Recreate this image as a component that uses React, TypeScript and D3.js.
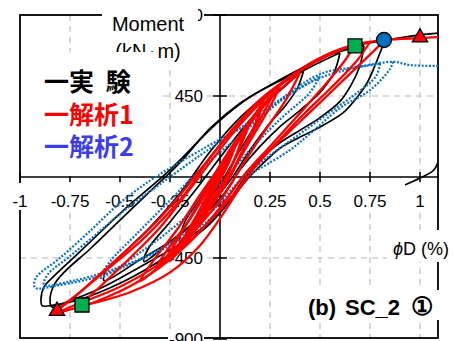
import React from 'react';
import * as d3 from 'd3';

// axis ticks
const xTicks = [-1, -0.75, -0.5, -0.25, 0, 0.25, 0.5, 0.75, 1];
const xTickLabels = ['-1', '-0.75', '-0.5', '-0.25', '0', '0.25', '0.5', '0.75', '1'];
const yTicks = [-900, -450, 0, 450, 900];
const yTickLabels = ['-900', '-450', '0', '450', '900'];
const xGrid = [-0.75, -0.5, -0.25, 0.25, 0.5, 0.75, 1];
const yGrid = [-450, 450];

// experiment (black) loops: [phiD %, moment kN・m]
const expLoop1 = [[0.22, 420], [0.18, 300], [0.1, 150], [0, -40], [-0.1, -200], [-0.2, -360], [-0.18, -260], [-0.1, -120], [0, 60], [0.1, 230], [0.22, 420]];
const expLoop2 = [[0.42, 600], [0.39, 500], [0.33, 400], [0.25, 300], [0.15, 150], [0.05, -20], [-0.1, -220], [-0.25, -360], [-0.38, -470], [-0.36, -400], [-0.25, -250], [-0.1, -40], [0.05, 180], [0.2, 380], [0.3, 480], [0.42, 600]];
const expLoop3 = [[0.6, 690], [0.57, 580], [0.5, 470], [0.4, 370], [0.3, 280], [0.2, 170], [0.1, 40], [0, -120], [-0.2, -320], [-0.4, -460], [-0.58, -575], [-0.57, -520], [-0.5, -440], [-0.35, -280], [-0.2, -90], [-0.05, 140], [0.1, 330], [0.25, 470], [0.4, 580], [0.6, 690]];
const expLoop4 = [[0.72, 730], [0.7, 620], [0.66, 520], [0.6, 420], [0.5, 330], [0.4, 260], [0.3, 190], [0.2, 100], [0.1, -40], [0, -200], [-0.2, -370], [-0.4, -500], [-0.6, -620], [-0.78, -700], [-0.84, -722], [-0.85, -690], [-0.83, -600], [-0.78, -530], [-0.65, -400], [-0.5, -240], [-0.35, -80], [-0.2, 80], [-0.05, 270], [0.1, 410], [0.25, 510], [0.4, 600], [0.55, 680], [0.72, 730]];
const expLoop5 = [[0.825, 760], [0.8, 690], [0.775, 620], [0.735, 522], [0.675, 428], [0.615, 356], [0.5, 278], [0.4, 222], [0.3, 160], [0.2, 60], [0.15, 5], [0.05, -130], [-0.05, -260], [-0.2, -390], [-0.35, -500], [-0.5, -590], [-0.7, -680], [-0.85, -715], [-0.89, -715], [-0.895, -680], [-0.88, -610], [-0.835, -556], [-0.7, -415], [-0.55, -255], [-0.465, -167], [-0.25, 40], [-0.015, 300], [0.15, 444], [0.3, 535], [0.4, 590], [0.5, 655], [0.65, 722], [0.825, 760], [1.0, 790], [1.15, 805]];
const expTail = [[1.14, 400], [1.1, 120], [1.07, 40], [1.0, -6], [0.925, -44]];

// analysis 1 (red) loops
const anaLoop1 = [[0.12, 250], [0.08, 120], [0.02, -30], [-0.05, -170], [-0.14, -320], [-0.11, -230], [-0.05, -90], [0.02, 70], [0.12, 250]];
const anaLoop2 = [[0.22, 420], [0.17, 280], [0.1, 120], [0.03, -40], [-0.08, -220], [-0.25, -470], [-0.2, -370], [-0.12, -220], [-0.03, -30], [0.06, 140], [0.14, 290], [0.22, 420]];
const anaLoop3 = [[0.4, 580], [0.33, 430], [0.22, 250], [0.12, 80], [0.02, -100], [-0.12, -290], [-0.25, -440], [-0.4, -580], [-0.33, -460], [-0.22, -300], [-0.1, -100], [0, 60], [0.1, 220], [0.22, 400], [0.4, 580]];
const anaLoop4 = [[0.675, 735], [0.62, 640], [0.5, 480], [0.38, 330], [0.25, 170], [0.12, 10], [0, -170], [-0.15, -360], [-0.35, -540], [-0.55, -660], [-0.69, -711], [-0.6, -610], [-0.45, -450], [-0.3, -280], [-0.18, -110], [-0.05, 80], [0.1, 290], [0.25, 460], [0.45, 630], [0.675, 735]];
const anaLoop5 = [[0.825, 761], [0.75, 680], [0.6, 520], [0.45, 360], [0.35, 255], [0.2, 90], [0.1, -60], [0, -230], [-0.1, -380], [-0.25, -530], [-0.45, -640], [-0.65, -705], [-0.815, -748], [-0.7, -640], [-0.55, -500], [-0.4, -360], [-0.3, -250], [-0.18, -100], [-0.08, 60], [0.05, 250], [0.2, 430], [0.4, 590], [0.55, 680], [0.675, 735], [0.825, 761], [1.0, 772], [1.15, 780]];
const anaLoop6 = [[0.3, 500], [0.24, 370], [0.15, 200], [0.06, 30], [-0.04, -140], [-0.18, -340], [-0.32, -500], [-0.26, -400], [-0.16, -250], [-0.06, -70], [0.04, 110], [0.16, 310], [0.3, 500]];
const anaLoop7 = [[0.08, 180], [0.04, 70], [-0.02, -60], [-0.09, -220], [-0.06, -130], [0, 0], [0.08, 180]];
const anaLoop8 = [[0.75, 750], [0.68, 640], [0.55, 490], [0.42, 350], [0.3, 210], [0.17, 50], [0.05, -120], [-0.1, -300], [-0.3, -480], [-0.5, -610], [-0.7, -700], [-0.815, -748], [-0.72, -660], [-0.6, -540], [-0.45, -390], [-0.32, -250], [-0.2, -100], [-0.1, 40], [0.05, 240], [0.25, 470], [0.45, 630], [0.6, 710], [0.75, 750]];
const anaLoop9 = [[0.16, 330], [0.11, 190], [0.04, 20], [-0.04, -130], [-0.12, -280], [-0.2, -410], [-0.15, -300], [-0.08, -160], [-0.01, 0], [0.07, 160], [0.16, 330]];
const anaLoop10 = [[0.27, 470], [0.2, 320], [0.12, 160], [0.05, 0], [-0.06, -180], [-0.16, -320], [-0.29, -490], [-0.22, -360], [-0.13, -190], [-0.04, -10], [0.06, 170], [0.17, 340], [0.27, 470]];

// analysis 2 (blue dotted) loops
const ana2Loop1 = [[0.5, 560], [0.45, 470], [0.3, 320], [0.15, 150], [0, -40], [-0.2, -250], [-0.4, -420], [-0.6, -560], [-0.55, -470], [-0.42, -320], [-0.25, -130], [-0.1, 40], [0.1, 230], [0.3, 420], [0.5, 560]];
const ana2Loop2 = [[0.8, 630], [0.78, 560], [0.7, 480], [0.55, 360], [0.4, 240], [0.25, 120], [0.1, -20], [-0.05, -200], [-0.3, -400], [-0.55, -520], [-0.75, -580], [-0.88, -600], [-0.86, -540], [-0.75, -440], [-0.6, -300], [-0.45, -160], [-0.3, -40], [-0.1, 120], [0.1, 270], [0.3, 430], [0.5, 550], [0.65, 600], [0.8, 630]];
const ana2Loop3 = [[0.865, 640], [0.85, 600], [0.75, 483], [0.6, 383], [0.45, 240], [0.35, 150], [0.235, 70], [0.15, 10], [-0.015, -200], [-0.2, -350], [-0.4, -460], [-0.6, -550], [-0.8, -600], [-0.925, -615], [-0.92, -560], [-0.8, -450], [-0.65, -300], [-0.5, -144], [-0.35, -20], [-0.235, 60], [0, 210], [0.2, 333], [0.365, 483], [0.515, 578], [0.685, 611], [0.865, 640], [0.95, 622], [1.15, 617]];

const expLoops = [expLoop1, expLoop2, expLoop3, expLoop4, expLoop5, expTail];
const anaLoops = [anaLoop7, anaLoop1, anaLoop9, anaLoop2, anaLoop10, anaLoop6, anaLoop3, anaLoop4, anaLoop8, anaLoop5];
const ana2Loops = [ana2Loop1, ana2Loop2, ana2Loop3];

// markers
const squarePts = [[0.675, 728], [-0.69, -711]];
const circlePts = [[0.82, 761]];
const trianglePts = [[1.0, 775], [-0.815, -744]];

const charW = (s: string, size: number) =>
  s.split('').reduce((a, c) => a + (c === '.' ? 0.278 : c === '-' ? 0.333 : 0.556), 0) * size;

const App = () => {
  const width = 455;
  const height = 341;
  const x = d3.scaleLinear().domain([-1, 1.09]).range([20, 438]);
  const y = d3.scaleLinear().domain([-900, 900]).range([339, 15]);

  const line = d3.line<number[]>()
    .x(d => x(d[0]))
    .y(d => y(d[1]))
    .curve(d3.curveCatmullRom.alpha(0.5));

  const gridColor = '#cfcfcf';
  const tickFont = 17;
  const sym = (type: any, size: number) => d3.symbol().type(type).size(size)() as string;

  return (
    <svg width={width} height={height} style={{ position: 'absolute', left: 0, top: 0, fontFamily: 'Liberation Sans, Arial, sans-serif' }}>
      <defs>
        <clipPath id="plot">
          <rect x={20} y={15} width={418} height={324} />
        </clipPath>
      </defs>
      <rect width={width} height={height} fill="white" />

      {/* grid */}
      {xGrid.map(v => (
        <line key={'gx' + v} x1={x(v)} x2={x(v)} y1={15} y2={339} stroke={gridColor} strokeWidth={1.6} strokeDasharray="6,5" />
      ))}
      {yGrid.map(v => (
        <line key={'gy' + v} x1={20} x2={438} y1={y(v)} y2={y(v)} stroke={gridColor} strokeWidth={1.6} strokeDasharray="6,5" />
      ))}

      {/* frame and axes */}
      <rect x={20} y={15} width={418} height={323} fill="none" stroke="black" strokeWidth={1.8} />
      <line x1={20} x2={438} y1={y(0)} y2={y(0)} stroke="black" strokeWidth={1.6} />
      <line x1={x(0)} x2={x(0)} y1={15} y2={339} stroke="black" strokeWidth={1.6} />
      {xTicks.map(v => (
        <line key={'tx' + v} x1={x(v)} x2={x(v)} y1={y(0) - 5} y2={y(0) + 5} stroke="black" strokeWidth={1.5} />
      ))}
      {yTicks.map(v => (
        <line key={'ty' + v} x1={x(0) - 7} x2={x(0) + 7} y1={y(v)} y2={y(v)} stroke="black" strokeWidth={1.5} />
      ))}

      {/* tick labels */}
      {xTicks.map((v, i) => {
        const w = charW(xTickLabels[i], tickFont);
        return (
          <g key={'lx' + v}>
            {v !== 0 && <rect x={x(v) - w / 2 - 1} y={183} width={w + 2} height={27} fill="white" />}
            <text x={x(v)} y={201} dy="0.35em" textAnchor="middle" fontSize={tickFont}>{xTickLabels[i]}</text>
          </g>
        );
      })}
      {yTicks.map((v, i) => {
        const w = charW(yTickLabels[i], tickFont);
        return (
          <g key={'ly' + v}>
            {v !== 0 && <rect x={203 - w - 1} y={y(v) - 9} width={w + 2} height={18} fill="white" />}
            <text x={203} y={y(v)} dy="0.35em" textAnchor="end" fontSize={tickFont}>{yTickLabels[i]}</text>
          </g>
        );
      })}

      {/* curves */}
      <g clipPath="url(#plot)" fill="none" strokeLinejoin="round">
        {expLoops.map((d, i) => (
          <path key={'e' + i} d={line(d) as string} stroke="black" strokeWidth={1.7} />
        ))}
        {ana2Loops.map((d, i) => (
          <path key={'b' + i} d={line(d) as string} stroke="#0b72c4" strokeWidth={2.2} strokeDasharray="2,1.6" />
        ))}
        {anaLoops.map((d, i) => (
          <path key={'r' + i} d={line(d) as string} stroke="#ff0000" strokeWidth={2.3} />
        ))}
      </g>

      {/* markers */}
      {squarePts.map((p, i) => (
        <path key={'sq' + i} transform={`translate(${x(p[0])},${y(p[1])})`} d={sym(d3.symbolSquare, 196)} fill="#00b050" stroke="black" strokeWidth={1.3} />
      ))}
      {circlePts.map((p, i) => (
        <circle key={'c' + i} cx={x(p[0])} cy={y(p[1])} r={7.5} fill="#0070c0" stroke="black" strokeWidth={1.3} />
      ))}
      {trianglePts.map((p, i) => (
        <path key={'tr' + i} transform={`translate(${x(p[0])},${y(p[1])})`} d={sym(d3.symbolTriangle, 100)} fill="#ff0000" stroke="black" strokeWidth={1.3} />
      ))}

      {/* axis title */}
      <rect x={102} y={0} width={96} height={67} fill="white" />
      <text x={148} y={58} textAnchor="middle" fontSize={20}>(kN<tspan fontFamily="Noto Sans CJK JP" fontSize={11} fontWeight="bold" dy={-1}>・</tspan><tspan dy={1}>m)</tspan></text>
      <rect x={102} y={0} width={96} height={43} fill="white" />
      <text x={148} y={31} textAnchor="middle" fontSize={20}>Moment</text>

      {/* legend */}
      <rect x={21} y={52} width={137} height={124} fill="white" />
      <g fontFamily="Noto Sans CJK JP" fontWeight="bold" fontSize={25}>
        <text x={44} y={91} fill="black">一実<tspan dx={6}> 験</tspan></text>
        <text x={44} y={124} fill="#ff0000">一解析1</text>
        <text x={44} y={156} fill="#3b3bf0">一解析2</text>
      </g>

      {/* x axis title */}
      <rect x={387} y={230} width={68} height={32} fill="white" />
      <text x={393} y={255} fontSize={18}><tspan fontStyle="italic">ϕ</tspan>D (%)</text>

      {/* panel label */}
      <rect x={303} y={290} width={137} height={30} fill="white" />
      <text y={315} fontSize={22} fontWeight="bold">
        <tspan x={308}>(b)</tspan>
        <tspan x={345}>SC_2</tspan>
        <tspan x={411} fontSize={25}>①</tspan>
      </text>
    </svg>
  );
};

export default App;
